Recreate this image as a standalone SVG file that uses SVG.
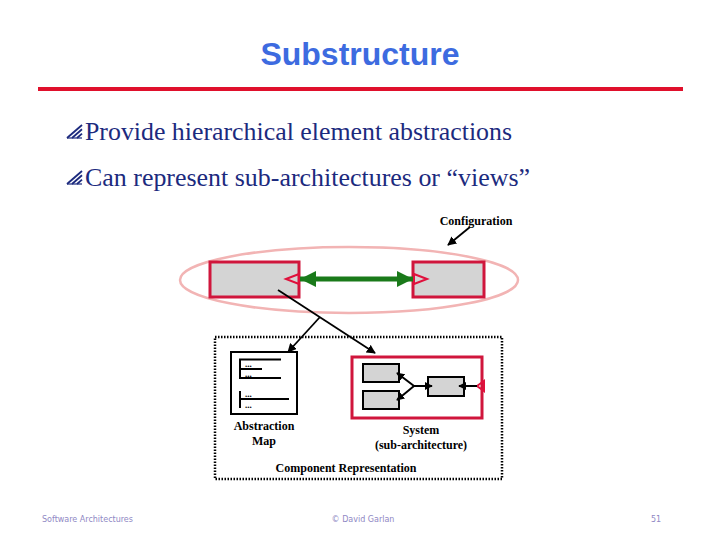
<svg xmlns="http://www.w3.org/2000/svg" width="720" height="540" viewBox="0 0 720 540">
<style>
.title{font-family:"Liberation Sans",Arial,sans-serif;font-weight:bold;font-size:32px;fill:#3d6be0}
.bul{font-family:"Liberation Serif","Times New Roman",serif;font-size:25px;fill:#1c2a7e}
.lbl{font-family:"Liberation Serif","Times New Roman",serif;font-weight:bold;font-size:12px;fill:#000}
.dots{font-family:"Liberation Serif",serif;font-size:9px;font-weight:bold;fill:#000}
.foot{font-family:"DejaVu Sans","Liberation Sans",sans-serif;font-size:8px;fill:#8f88c4}
.comp{fill:#d4d4d4;stroke:#d0163c;stroke-width:3}
.sub{fill:#d4d4d4;stroke:#000;stroke-width:2}
.blk{stroke:#000;stroke-width:2;fill:none}
.port{fill:none;stroke:#e0103c;stroke-width:2}
</style>
<defs>
<marker id="ah" viewBox="0 0 10 10" refX="9" refY="5" markerWidth="5" markerHeight="5" orient="auto" markerUnits="strokeWidth">
<path d="M0,0 L10,5 L0,10 z" fill="#000"/>
</marker>
<marker id="ahs" viewBox="0 0 10 10" refX="9" refY="5" markerWidth="4" markerHeight="4" orient="auto" markerUnits="strokeWidth">
<path d="M0,0 L10,5 L0,10 z" fill="#000"/>
</marker>
<g id="bulletGlyph">
<line x1="0" y1="13" x2="15" y2="0" stroke="#1c2a7e" stroke-width="1.8"/>
<line x1="5" y1="13" x2="15" y2="4.3" stroke="#1c2a7e" stroke-width="1.8"/>
<line x1="10" y1="13" x2="15" y2="8.6" stroke="#1c2a7e" stroke-width="1.8"/>
<line x1="0" y1="13" x2="15" y2="13" stroke="#1c2a7e" stroke-width="1.2"/>
</g>
</defs>
<rect width="720" height="540" fill="#fff"/>

<g id="header">
<text class="title" x="360" y="65" text-anchor="middle">Substructure</text>
<rect x="38" y="87" width="645" height="4" fill="#e0102c"/>
</g>

<g id="bullets">
<use href="#bulletGlyph" x="67" y="125"/>
<text class="bul" x="85" y="140" textLength="427" lengthAdjust="spacingAndGlyphs">Provide hierarchical element abstractions</text>
<use href="#bulletGlyph" x="67" y="171"/>
<text class="bul" x="85" y="186" textLength="445" lengthAdjust="spacingAndGlyphs">Can represent sub-architectures or “views”</text>
</g>

<g id="configuration">
<ellipse cx="349" cy="280" rx="169" ry="33" fill="none" stroke="#f2b4b4" stroke-width="2.5"/>
<text class="lbl" x="476" y="225" text-anchor="middle">Configuration</text>
</g>

<g id="compLeft">
<rect class="comp" x="210" y="262" width="89" height="35"/>
<polygon class="port" points="286,279 299,274 299,284"/>
</g>
<g id="compRight">
<rect class="comp" x="413" y="262" width="71" height="35"/>
<polygon class="port" points="427,279 414,274 414,284"/>
</g>

<g id="compRep">
<rect x="215" y="337" width="287" height="142" fill="none" stroke="#000" stroke-width="2.5" stroke-dasharray="1.5 1.5"/>
<text class="lbl" x="346" y="472" text-anchor="middle">Component Representation</text>
</g>

<g id="abstractionMap">
<rect x="231" y="352" width="66" height="62" fill="#fff" stroke="#000" stroke-width="2"/>
<path class="blk" d="M240,359.5 V378 M239,359.5 H281 M239,369 H262 M239,378 H281 M240,391 V408 M239,399 H289"/>
<text class="dots" x="245" y="367">...</text>
<text class="dots" x="245" y="377">...</text>
<text class="dots" x="245" y="397">...</text>
<text class="dots" x="245" y="408">...</text>
<text class="lbl" x="264" y="430" text-anchor="middle">Abstraction</text>
<text class="lbl" x="264" y="445" text-anchor="middle">Map</text>
</g>

<g id="system">
<rect x="352" y="357" width="130" height="61" fill="#fff" stroke="#d0163c" stroke-width="3"/>
<rect class="sub" x="363" y="364" width="36" height="18"/>
<rect class="sub" x="363" y="391" width="36" height="18"/>
<rect class="sub" x="428" y="377" width="36" height="19"/>
<polygon points="477,386 484,381 484,391" fill="none" stroke="#e0103c" stroke-width="2"/>
<text class="lbl" x="421" y="434" text-anchor="middle">System</text>
<text class="lbl" x="421" y="449" text-anchor="middle">(sub-architecture)</text>
</g>

<g id="connectors">
<line x1="300" y1="279" x2="413" y2="279" stroke="#1a7a1a" stroke-width="5"/>
<polygon points="300,279 316,271 316,287" fill="#1a7a1a"/>
<polygon points="413,279 397,271 397,287" fill="#1a7a1a"/>
<line x1="470" y1="227" x2="448" y2="245" stroke="#000" stroke-width="1.8" marker-end="url(#ah)"/>
<line x1="278" y1="290" x2="375" y2="353" stroke="#000" stroke-width="1.8" marker-end="url(#ah)"/>
<line x1="320" y1="317" x2="288" y2="352" stroke="#000" stroke-width="1.8" marker-end="url(#ah)"/>
<line x1="414" y1="386" x2="397" y2="373" stroke="#000" stroke-width="2" marker-end="url(#ahs)"/>
<line x1="414" y1="386" x2="397" y2="400" stroke="#000" stroke-width="2" marker-end="url(#ahs)"/>
<line x1="414" y1="386" x2="432" y2="386" stroke="#000" stroke-width="2" marker-end="url(#ahs)"/>
<line x1="477" y1="386" x2="459" y2="386" stroke="#000" stroke-width="2" marker-end="url(#ahs)"/>
</g>

<g id="footer">
<text class="foot" x="42" y="522">Software Architectures</text>
<text class="foot" x="363" y="522" text-anchor="middle">© David Garlan</text>
<text class="foot" x="651" y="522">51</text>
</g>
</svg>
